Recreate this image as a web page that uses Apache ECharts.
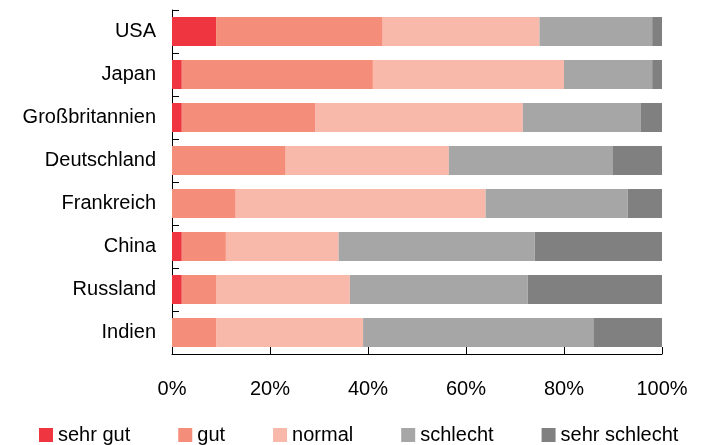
<!DOCTYPE html>
<html>
<head>
<meta charset="utf-8">
<title>Bewertung nach Land</title>
<script src="https://cdn.jsdelivr.net/npm/echarts@6/dist/echarts.min.js"></script>
<style>
  html, body { margin: 0; padding: 0; background: #ffffff; }
  #chart { width: 701px; height: 445px; }
</style>
</head>
<body>
<div id="chart"></div>
<script>
// Länder (von oben nach unten)
const categories = ['USA', 'Japan', 'Großbritannien', 'Deutschland', 'Frankreich', 'China', 'Russland', 'Indien'];

// Anteile in Prozent je Bewertungsstufe
const sehrGut      = [9, 2, 2, 0, 0, 2, 2, 0];
const gut          = [34, 39, 27.3, 23.2, 13, 9, 7.1, 9];
const normal       = [32, 39, 42.3, 33.3, 51, 23, 27.2, 30];
const schlecht     = [23, 18, 24.1, 33.5, 29, 40, 36.3, 47];
const sehrSchlecht = [2, 2, 4.3, 10, 7, 26, 27.4, 14];

const seriesNames = ['sehr gut', 'gut', 'normal', 'schlecht', 'sehr schlecht'];
const seriesData = [sehrGut, gut, normal, schlecht, sehrSchlecht];
const colors = ['#EF3640', '#F58D7B', '#F9B9AA', '#A6A6A6', '#808080'];

const xTicks = [0, 20, 40, 60, 80, 100];

const FONT = '"Liberation Sans", Arial, sans-serif';

const chart = echarts.init(document.getElementById('chart'), null, { renderer: 'canvas' });

chart.setOption({
  animation: false,
  color: colors,
  textStyle: { fontFamily: FONT },
  grid: { left: 172, right: 39, top: 10, bottom: 91, containLabel: false },
  legend: {
    data: seriesNames,
    left: 39,
    top: 425,
    padding: 0,
    icon: 'rect',
    itemWidth: 14,
    itemHeight: 14,
    itemGap: 48,
    textStyle: { fontFamily: FONT, fontSize: 20, color: '#000' }
  },
  xAxis: {
    type: 'value',
    min: xTicks[0],
    max: xTicks[xTicks.length - 1],
    interval: 20,
    axisLine: { show: true, lineStyle: { color: '#000', width: 1 } },
    axisTick: { show: true, inside: true, length: 7, lineStyle: { color: '#000' } },
    splitLine: { show: false },
    axisLabel: {
      formatter: '{value}%',
      fontFamily: FONT,
      fontSize: 20,
      color: '#000',
      margin: 25
    }
  },
  yAxis: {
    type: 'category',
    data: categories,
    inverse: true,
    axisLine: { show: true, lineStyle: { color: '#000', width: 1 } },
    axisTick: { show: true, inside: true, length: 7, lineStyle: { color: '#000' } },
    axisLabel: {
      fontFamily: FONT,
      fontSize: 20,
      color: '#000',
      margin: 16,
      padding: [4, 0, 0, 0]
    }
  },
  series: seriesData.map((values, i) => ({
    name: seriesNames[i],
    type: 'bar',
    stack: 'gesamt',
    barWidth: 29,
    data: values,
    itemStyle: { color: colors[i] }
  }))
});
</script>
</body>
</html>
